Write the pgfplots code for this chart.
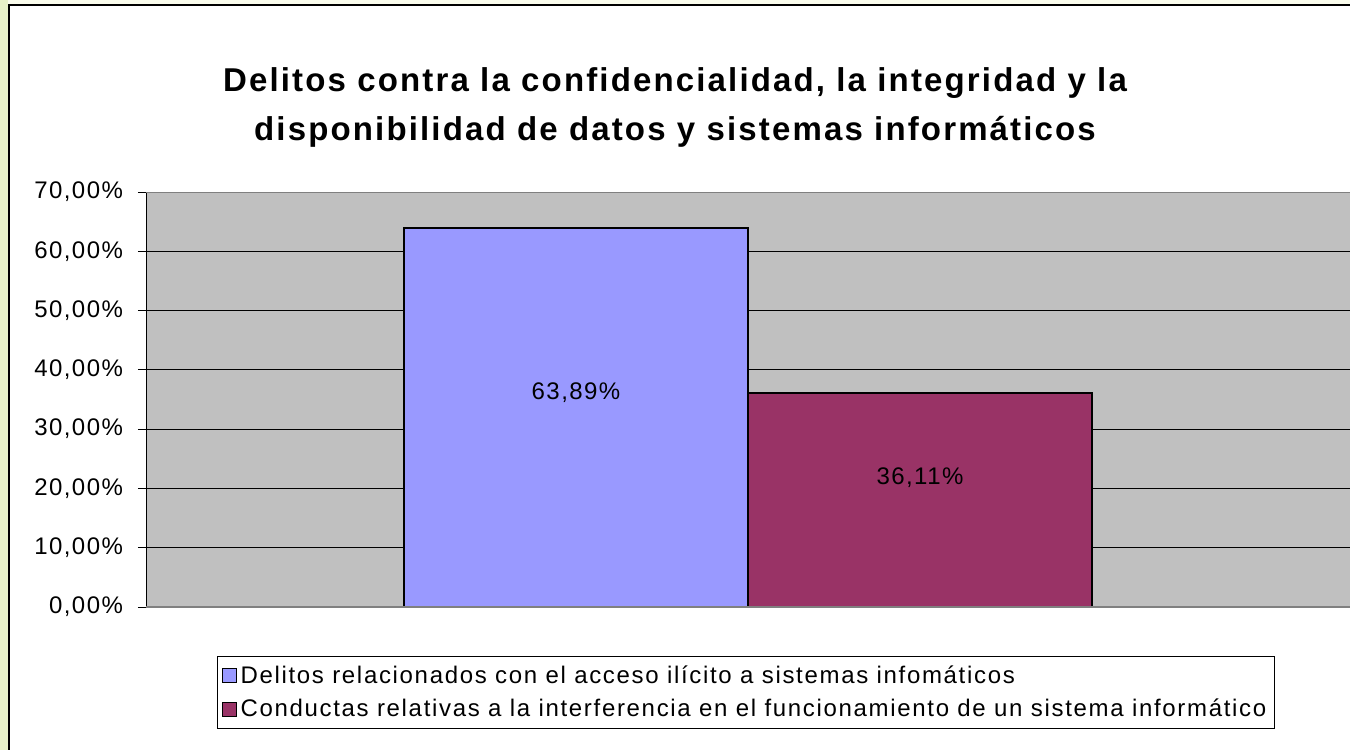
\documentclass[border=0pt]{standalone}
\usepackage{fontspec}
\setmainfont{Liberation Sans}[LetterSpace=6]
\usepackage{pgfplots}
\pgfplotsset{compat=1.18}
\definecolor{barA}{HTML}{9999FF}
\definecolor{barB}{HTML}{993366}
\definecolor{plotgray}{HTML}{C0C0C0}
\definecolor{axgray}{HTML}{808080}
\definecolor{stripL}{HTML}{E8F2C8}
\definecolor{stripT}{HTML}{FAFCEC}
\begin{document}
\begin{tikzpicture}
\fill[white] (0pt,0pt) rectangle (675pt,375pt);
\fill[stripT] (0pt,372.5pt) rectangle (675pt,375pt);
\fill[stripL] (0pt,0pt) rectangle (4pt,375pt);
\draw[black, line width=1pt] (4.5pt,0pt) -- (4.5pt,372.5pt) -- (675pt,372.5pt);
\node[anchor=base, font=\fontsize{16.5}{19}\selectfont\bfseries\addfontfeature{LetterSpace=6.5}, inner sep=0pt] at (337.5pt,329pt) {Delitos contra la confidencialidad, la integridad y la};
\node[anchor=base, font=\fontsize{16.5}{19}\selectfont\bfseries\addfontfeature{LetterSpace=6.5}, inner sep=0pt] at (337.5pt,304.5pt) {disponibilidad de datos y sistemas informáticos};
\begin{axis}[
  at={(73pt,71.5pt)}, anchor=south west,
  width=602pt, height=207.5pt, scale only axis,
  xmin=-1, xmax=1, ymin=0, ymax=70,
  ybar=0pt, bar width=172pt,
  xtick=\empty,
  ytick={0,10,20,30,40,50,60,70},
  yticklabels={{0,00\%},{10,00\%},{20,00\%},{30,00\%},{40,00\%},{50,00\%},{60,00\%},{70,00\%}},
  ymajorgrids,
  grid style={black, line width=0.5pt},
  axis background/.style={fill=plotgray},
  axis line style={draw=none},
  tick align=outside,
  major tick length=4pt,
  ytick style={black, line width=0.5pt},
  yticklabel style={font=\fontsize{12}{14}\selectfont, xshift=-4pt},
  legend style={at={(0.059,-0.1108)}, anchor=north west, draw=black, line width=0.5pt,
    font=\fontsize{12}{14}\selectfont\addfontfeature{LetterSpace=7}, row sep=2.5pt, inner xsep=2pt, inner ysep=2.5pt, yshift=-1.5pt},
  legend cell align=left,
  legend image code/.code={\draw[#1, draw=black, line width=0.5pt] (0pt,-3.5pt) rectangle (7pt,3.5pt);},
]
\addplot[fill=barA, draw=black, line width=1pt] coordinates {(0,63.89)};
\addlegendentry{Delitos relacionados con el acceso ilícito a sistemas infomáticos}
\addplot[fill=barB, draw=black, line width=1pt] coordinates {(0,36.11)};
\addlegendentry{Conductas relativas a la interferencia en el funcionamiento de un sistema informático}
\draw[black, line width=0.5pt] (rel axis cs:0,0) -- (rel axis cs:0,1);
\draw[axgray, line width=0.5pt] (rel axis cs:0,1) -- (rel axis cs:1,1);
\draw[axgray, line width=1.2pt] (rel axis cs:0,0) -- (rel axis cs:1,0);
\node[font=\fontsize{12}{14}\selectfont] at (axis cs:-0.2857,36.1) {63,89\%};
\node[font=\fontsize{12}{14}\selectfont] at (axis cs:0.2857,21.75) {36,11\%};
\end{axis}
\pgfresetboundingbox
\path[use as bounding box] (0pt,0pt) rectangle (675pt,375pt);
\end{tikzpicture}
\end{document}
